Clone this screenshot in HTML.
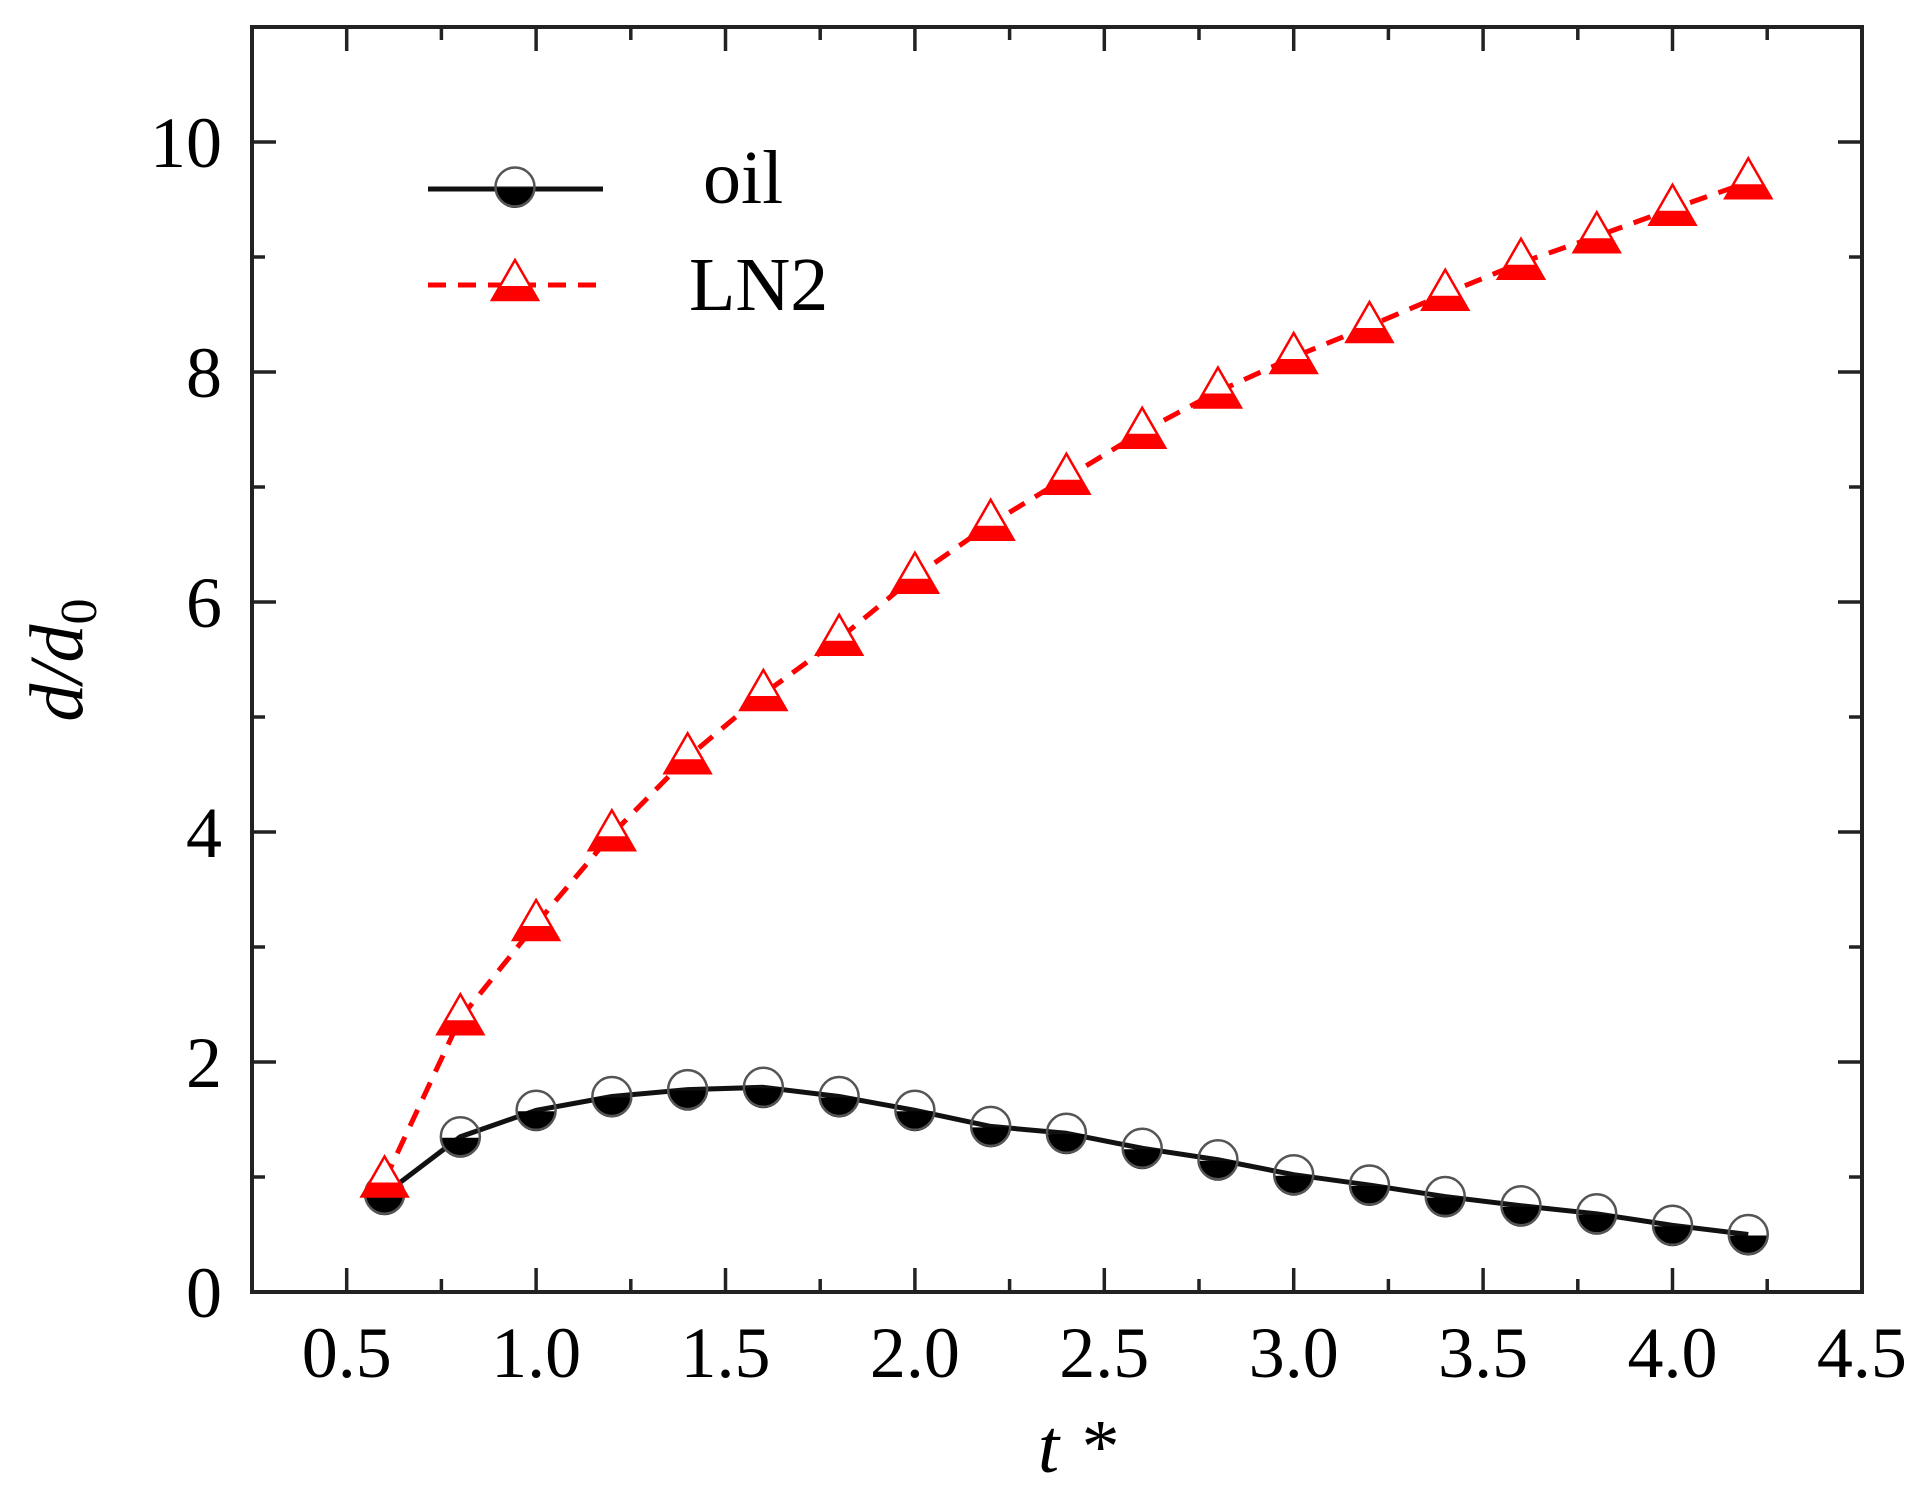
<!DOCTYPE html>
<html><head><meta charset="utf-8"><style>
html,body{margin:0;padding:0;background:#fff}
svg{display:block}
text{font-family:"Liberation Serif","Times New Roman",serif;fill:#000}
</style></head><body>
<svg width="1931" height="1509" viewBox="0 0 1931 1509" xmlns="http://www.w3.org/2000/svg">
<defs>
<g id="circ">
<path d="M-20,1 A20,20 0 0 0 20,1 Z" fill="#000"/>
<circle r="19.5" fill="none" stroke="#555" stroke-width="2.5"/>
</g>
<g id="tri">
<path d="M0,-21 L23,19 L-23,19 Z" fill="#fff" stroke="#f00" stroke-width="2.5"/>
<path d="M-15.5,5 L15.5,5 L23.5,19.5 L-23.5,19.5 Z" fill="#f00"/>
</g>
</defs>
<g id="plot"></g>
<rect x="252" y="27" width="1610" height="1265" fill="none" stroke="#222" stroke-width="4"/>
<g stroke="#222" stroke-width="3.5" id="ticks"></g>
<g font-size="72" id="labels"></g>
<text x="1077" y="1472" font-size="76" font-style="italic" text-anchor="middle">t *</text>
<text transform="translate(82,660) rotate(-90)" font-size="76" text-anchor="middle"><tspan font-style="italic">d/d</tspan><tspan font-size="52" dy="14">0</tspan></text>
<line x1="428" y1="189" x2="603" y2="189" stroke="#111" stroke-width="5"/>
<use href="#circ" x="515" y="187"/>
<line x1="428" y1="285" x2="603" y2="285" stroke="#f00" stroke-width="5" stroke-dasharray="18,12"/>
<use href="#tri" x="515" y="281"/>
<text x="703" y="203" font-size="76">oil</text>
<text x="689" y="310" font-size="76">LN2</text>
<script>
(function(){
var ns="http://www.w3.org/2000/svg";
function X(v){return 252+(v-0.25)*378.8;}
function Y(v){return 1292-v*115;}
var oil=[0.85,1.35,1.58,1.7,1.76,1.78,1.7,1.58,1.44,1.38,1.25,1.15,1.02,0.93,0.83,0.75,0.68,0.58,0.5];
var ln=[0.97,2.38,3.2,3.98,4.65,5.2,5.68,6.22,6.68,7.08,7.48,7.83,8.13,8.4,8.68,8.95,9.18,9.42,9.65];
var plot=document.getElementById("plot");
function path(d,c,dash){var p=document.createElementNS(ns,"polyline");p.setAttribute("points",d);p.setAttribute("fill","none");p.setAttribute("stroke",c);p.setAttribute("stroke-width","5");p.setAttribute("stroke-linejoin","round");if(dash)p.setAttribute("stroke-dasharray","18,12");plot.appendChild(p);}
var po=[],pl=[];
for(var i=0;i<19;i++){var x=X(0.6+0.2*i);po.push(x+","+Y(oil[i]));pl.push(x+","+Y(ln[i]));}
path(po.join(" "),"#111",false);path(pl.join(" "),"#f00",true);
for(var i=0;i<19;i++){var x=X(0.6+0.2*i);
var u=document.createElementNS(ns,"use");u.setAttribute("href","#circ");u.setAttribute("x",x);u.setAttribute("y",Y(oil[i]));plot.appendChild(u);}
for(var i=0;i<19;i++){var x=X(0.6+0.2*i);
var u=document.createElementNS(ns,"use");u.setAttribute("href","#tri");u.setAttribute("x",x);u.setAttribute("y",Y(ln[i])-3);plot.appendChild(u);}
var t=document.getElementById("ticks"),L=document.getElementById("labels");
function ln2(a,b,c,d){var l=document.createElementNS(ns,"line");l.setAttribute("x1",a);l.setAttribute("y1",b);l.setAttribute("x2",c);l.setAttribute("y2",d);t.appendChild(l);}
function tx(s,x,y,a){var e=document.createElementNS(ns,"text");e.setAttribute("x",x);e.setAttribute("y",y);e.setAttribute("text-anchor",a);e.textContent=s;L.appendChild(e);}
for(var k=0;k<=16;k++){var v=0.5+0.25*k;var x=X(v);var len=(k%2==0)?24:13;
if(x>1860)continue;
ln2(x,1292,x,1292-len);ln2(x,27,x,27+len);
if(k%2==0)tx(v.toFixed(1),x,1377,"middle");}
tx("4.5",X(4.5),1377,"middle");
for(var k=0;k<=11;k++){var y=Y(k);var len=(k%2==0)?24:13;
ln2(252,y,252+len,y);ln2(1862,y,1862-len,y);
if(k%2==0)tx(String(k),222,y+25,"end");}
})();
</script>
</svg>
</body></html>
